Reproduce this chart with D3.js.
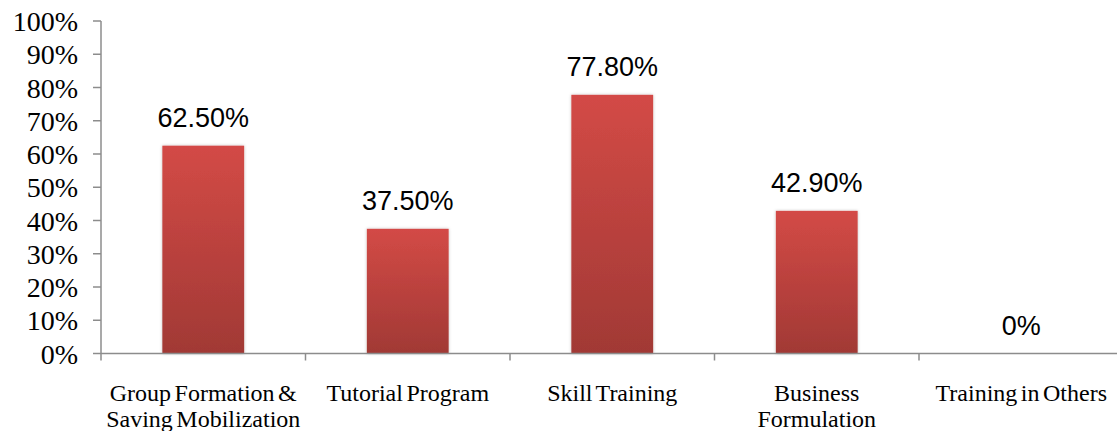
<!DOCTYPE html>
<html><head><meta charset="utf-8">
<script src="https://cdn.jsdelivr.net/npm/d3@7"></script>
<style>body{margin:0;background:#fff}</style>
</head><body>
<svg id="c" width="1117" height="431"></svg>
<script>
const categories = ["Group Formation & Saving Mobilization","Tutorial Program","Skill Training","Business Formulation","Training in Others"];
const categoryLines = [["Group Formation &","Saving Mobilization"],["Tutorial Program"],["Skill Training"],["Business","Formulation"],["Training in Others"]];
const values = [62.5, 37.5, 77.8, 42.9, 0];
const valueLabels = ["62.50%","37.50%","77.80%","42.90%","0%"];
const yTicks = [0,10,20,30,40,50,60,70,80,90,100];

const svg = d3.select("#c");
const x0 = 101, step = 204.5;
const x = d3.scaleBand().domain(categories).range([x0, x0 + step*categories.length]).padding(0);
const y = d3.scaleLinear().domain([0,100]).range([353.5, 21]);

const defs = svg.append("defs");
const g = defs.append("linearGradient").attr("id","bg").attr("x1",0).attr("y1",0).attr("x2",0).attr("y2",1);
g.append("stop").attr("offset","0%").attr("stop-color","#d34a46");
g.append("stop").attr("offset","100%").attr("stop-color","#a13935");
const f = defs.append("filter").attr("id","sh").attr("x","-10%").attr("y","-10%").attr("width","120%").attr("height","120%");
f.append("feDropShadow").attr("dx",0).attr("dy",0).attr("stdDeviation",1.5).attr("flood-color","#000").attr("flood-opacity",0.25);

const bw = x.bandwidth()*0.4;
// bars
svg.selectAll("rect.bar").data(values).enter().append("rect")
  .attr("class","bar")
  .attr("x",(d,i)=>x(categories[i]) + (x.bandwidth()-bw)/2)
  .attr("y",d=>y(d))
  .attr("width",bw)
  .attr("height",d=>y(0)-y(d))
  .attr("fill","url(#bg)")
  .attr("filter","url(#sh)");

// y axis
const axisColor = "#8c8c8c";
svg.append("line").attr("x1",x0).attr("x2",x0).attr("y1",y(100)).attr("y2",y(0)).attr("stroke",axisColor).attr("stroke-width",1.5);
svg.selectAll("line.yt").data(yTicks).enter().append("line")
  .attr("x1",93).attr("x2",x0).attr("y1",d=>y(d)).attr("y2",d=>y(d))
  .attr("stroke",axisColor).attr("stroke-width",1.5);
svg.selectAll("text.yl").data(yTicks).enter().append("text")
  .attr("x",78).attr("y",d=>y(d)+10)
  .attr("text-anchor","end")
  .attr("font-family","'Liberation Serif', 'Times New Roman', serif")
  .attr("font-size",28).attr("fill","#000")
  .text(d=>d+"%");

// x axis
svg.append("line").attr("x1",x0).attr("x2",1117).attr("y1",y(0)).attr("y2",y(0)).attr("stroke",axisColor).attr("stroke-width",1.5);
const bounds = categories.map(c=>x(c)).concat([x(categories[categories.length-1])+x.bandwidth()]);
svg.selectAll("line.xt").data(bounds).enter().append("line")
  .attr("x1",d=>d).attr("x2",d=>d).attr("y1",y(0)).attr("y2",y(0)+7)
  .attr("stroke",axisColor).attr("stroke-width",1.5);

// category labels
categoryLines.forEach((lines,i)=>{
  const cx = x(categories[i]) + x.bandwidth()/2;
  const t = svg.append("text").attr("text-anchor","middle")
    .attr("font-family","'Liberation Serif', 'Times New Roman', serif")
    .attr("font-size",24).attr("word-spacing",-2.5).attr("fill","#000");
  lines.forEach((ln,j)=>{
    t.append("tspan").attr("x",cx).attr("y",401 + j*26).text(ln);
  });
});

// value labels
svg.selectAll("text.vl").data(values).enter().append("text")
  .attr("x",(d,i)=>x(categories[i]) + x.bandwidth()/2)
  .attr("y",d=>y(d)-19)
  .attr("text-anchor","middle")
  .attr("font-family","'Liberation Sans', Arial, sans-serif")
  .attr("font-size",27).attr("fill","#000")
  .text((d,i)=>valueLabels[i]);
</script>
</body></html>
